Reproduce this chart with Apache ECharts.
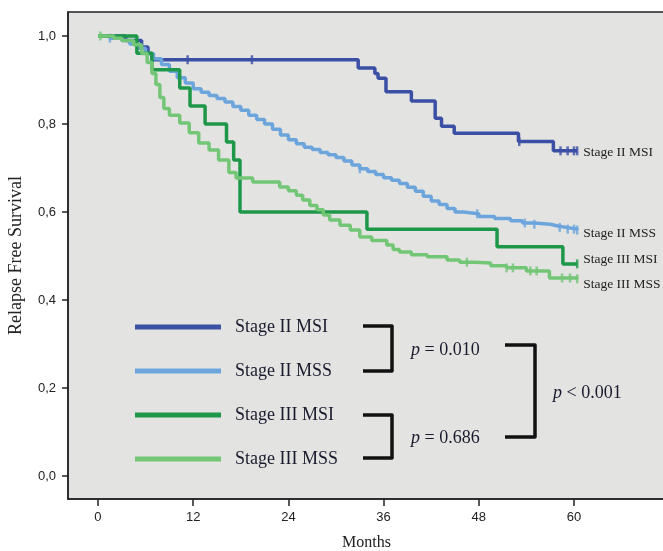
<!DOCTYPE html>
<html>
<head>
<meta charset="utf-8">
<title>Relapse Free Survival</title>
<script src="https://cdn.jsdelivr.net/npm/echarts@6/dist/echarts.min.js"></script>
<style>
  html, body { margin: 0; padding: 0; background: #fff; }
  #chart { width: 663px; height: 551px; }
</style>
</head>
<body>
<div id="chart"></div>
<script>
// Kaplan-Meier steps: [month, survival]
const seriesNames = ['Stage II MSI', 'Stage II MSS', 'Stage III MSI', 'Stage III MSS'];

const stageIIMSI = [
  [0, 1], [3.5, 0.99], [5.5, 0.975], [6.3, 0.96], [6.8, 0.946], [32.8, 0.927],
  [34.9, 0.915], [35.3, 0.904], [36.3, 0.873], [39.5, 0.852], [42.5, 0.813],
  [43.3, 0.795], [44.9, 0.779], [53, 0.76], [57.4, 0.739], [60.4, 0.739]
];
const stageIIMSS = [
  [0, 1], [1.5, 0.995], [3, 0.99], [4, 0.982], [5, 0.972], [6, 0.96], [7, 0.948],
  [8, 0.935], [9, 0.92], [10, 0.905], [11, 0.893], [12, 0.88], [13, 0.872],
  [14, 0.865], [15, 0.858], [16, 0.85], [17, 0.84], [18, 0.831], [19, 0.82],
  [20, 0.81], [21, 0.8], [22, 0.788], [23, 0.775], [24, 0.764], [25, 0.755],
  [26, 0.747], [27, 0.742], [28, 0.735], [29, 0.73], [30, 0.724], [31, 0.716],
  [32, 0.707], [33, 0.698], [34, 0.692], [35, 0.685], [36, 0.678], [37, 0.672],
  [38, 0.665], [39, 0.656], [40, 0.647], [41, 0.636], [42, 0.625], [43, 0.617],
  [44, 0.608], [45, 0.6], [46, 0.596], [48, 0.59], [50, 0.585], [52, 0.58],
  [53.5, 0.575], [55, 0.572], [57, 0.568], [58, 0.565], [59, 0.561], [60.4, 0.559]
];
const stageIIIMSI = [
  [0, 1], [4.9, 0.961], [6.8, 0.923], [10.3, 0.882], [11.6, 0.841], [13.5, 0.8],
  [16.2, 0.759], [17.1, 0.718], [17.9, 0.6], [33.9, 0.561], [50.3, 0.521],
  [58.6, 0.482], [60.4, 0.482]
];
const stageIIIMSS = [
  [0, 1], [2, 0.995], [3, 0.99], [4.5, 0.98], [5.5, 0.96], [6.2, 0.94], [6.8, 0.915],
  [7.3, 0.89], [7.8, 0.86], [8.3, 0.835], [9, 0.82], [10.3, 0.802], [11.5, 0.78],
  [12.7, 0.757], [14, 0.741], [15.2, 0.718], [16.5, 0.69], [17.4, 0.677],
  [19.5, 0.668], [22.9, 0.657], [24, 0.648], [25, 0.638], [25.8, 0.627],
  [26.7, 0.615], [27.6, 0.605], [28.4, 0.593], [29.2, 0.582], [30.5, 0.57],
  [31.8, 0.559], [33, 0.543], [34.5, 0.535], [36.4, 0.525], [37.2, 0.515],
  [38, 0.509], [39.5, 0.503], [41.5, 0.498], [44, 0.491], [45.6, 0.486],
  [47.5, 0.484], [49.5, 0.478], [51.5, 0.473], [54, 0.466], [56.9, 0.45], [60.4, 0.448]
];

// censored cases (months)
const censorIIMSI = [11.3, 19.4, 53.1, 58.3, 59.2, 60, 60.4];
const censorIIMSS = [1.5, 33, 47.8, 53.8, 55, 58.2, 59.2, 60, 60.4];
const censorIIIMSI = [60.4];
const censorIIIMSS = [0.3, 46.5, 51.5, 52.3, 54.5, 55.3, 58.5, 59.5, 60.4];

const xTicks = [0, 12, 24, 36, 48, 60];
const yTicks = [0, 0.2, 0.4, 0.6, 0.8, 1.0];

const colors = ['#3b4fa5', '#6ca5dc', '#1e9748', '#74c677'];
const endLabelShift = [2, 3, -4, 6];

function survAt(curve, t) {
  let v = curve[0][1];
  for (const p of curve) {
    if (p[0] <= t) v = p[1];
  }
  return v;
}

const curves = [stageIIMSI, stageIIMSS, stageIIIMSI, stageIIIMSS];
const censors = [censorIIMSI, censorIIMSS, censorIIIMSI, censorIIIMSS];
const drawOrder = [1, 3, 0, 2];

const serif = '"Liberation Serif", "Times New Roman", serif';
const sans = '"Liberation Sans", Arial, sans-serif';

const series = [];
drawOrder.forEach(i => {
  series.push({
    name: seriesNames[i],
    type: 'line',
    step: 'end',
    data: curves[i],
    symbol: 'none',
    color: colors[i],
    lineStyle: { width: 3.5 },
    z: 2 + i,
    endLabel: {
      show: true,
      formatter: seriesNames[i],
      distance: 6,
      offset: [0, endLabelShift[i]],
      fontFamily: serif,
      fontSize: 13.5,
      color: '#222'
    }
  });
});
drawOrder.forEach(i => {
  series.push({
    name: seriesNames[i] + ' censored',
    type: 'scatter',
    data: censors[i].map(t => [t, survAt(curves[i], t)]),
    symbol: 'rect',
    symbolSize: [2.5, 9],
    color: colors[i],
    z: 2 + i,
    silent: true
  });
});

function bracket(x1, x2, yTop, yBot) {
  return {
    type: 'polyline',
    shape: { points: [[x1, yTop], [x2, yTop], [x2, yBot], [x1, yBot]] },
    style: { stroke: '#111', lineWidth: 3.5, fill: null, lineJoin: 'round' },
    z: 10
  };
}

function pText(x, y, rest) {
  return {
    type: 'text',
    x: x,
    y: y,
    z: 10,
    style: {
      text: '{i|p}' + rest,
      fontFamily: serif,
      fontSize: 18,
      fill: '#1a1a2e',
      verticalAlign: 'middle',
      rich: {
        i: { fontStyle: 'italic', fontFamily: serif, fontSize: 18, fill: '#1a1a2e' }
      }
    }
  };
}

const chart = echarts.init(document.getElementById('chart'), null, { renderer: 'canvas' });
chart.setOption({
  animation: false,
  backgroundColor: '#fff',
  grid: {
    left: 68, right: -2, top: 12, bottom: 52,
    containLabel: false,
    outerBoundsMode: 'none',
    show: true,
    backgroundColor: '#e3e4e2',
    borderColor: '#222',
    borderWidth: 1.5
  },
  legend: {
    data: seriesNames,
    orient: 'vertical',
    left: 130,
    top: 312,
    icon: 'rect',
    itemWidth: 86,
    itemHeight: 5,
    itemGap: 24,
    selectedMode: false,
    textStyle: {
      fontFamily: serif,
      fontSize: 18,
      color: '#1a1a2e',
      lineHeight: 20,
      padding: [0, 0, 0, 9]
    }
  },
  xAxis: {
    type: 'value',
    min: -3.78,
    max: 71.47,
    name: 'Months',
    nameLocation: 'middle',
    nameGap: 36,
    nameTextStyle: { fontFamily: serif, fontSize: 16, color: '#222' },
    axisLine: { show: true, onZero: false, lineStyle: { color: '#222', width: 1.5 } },
    axisTick: { show: true, customValues: xTicks, length: 7, lineStyle: { color: '#222', width: 1.5 } },
    axisLabel: { customValues: xTicks, margin: 12, fontFamily: sans, fontSize: 13, color: '#222' },
    splitLine: { show: false }
  },
  yAxis: {
    type: 'value',
    min: -0.0523,
    max: 1.0545,
    name: 'Relapse Free Survival',
    nameLocation: 'middle',
    nameRotate: 90,
    nameGap: 43,
    nameTextStyle: { fontFamily: serif, fontSize: 18, color: '#222' },
    axisLine: { show: true, onZero: false, lineStyle: { color: '#222', width: 1.5 } },
    axisTick: { show: true, customValues: yTicks, length: 6, lineStyle: { color: '#222', width: 1.5 } },
    axisLabel: {
      customValues: yTicks,
      margin: 12,
      fontFamily: sans,
      fontSize: 13,
      color: '#222',
      formatter: v => v.toFixed(1).replace('.', ',')
    },
    splitLine: { show: false }
  },
  series: series,
  graphic: [
    bracket(363, 392, 326, 371),
    bracket(363, 392, 415, 458),
    bracket(505, 535, 345, 437),
    pText(411, 350, ' = 0.010'),
    pText(411, 438, ' = 0.686'),
    pText(553, 393, ' < 0.001')
  ]
});
</script>
</body>
</html>
